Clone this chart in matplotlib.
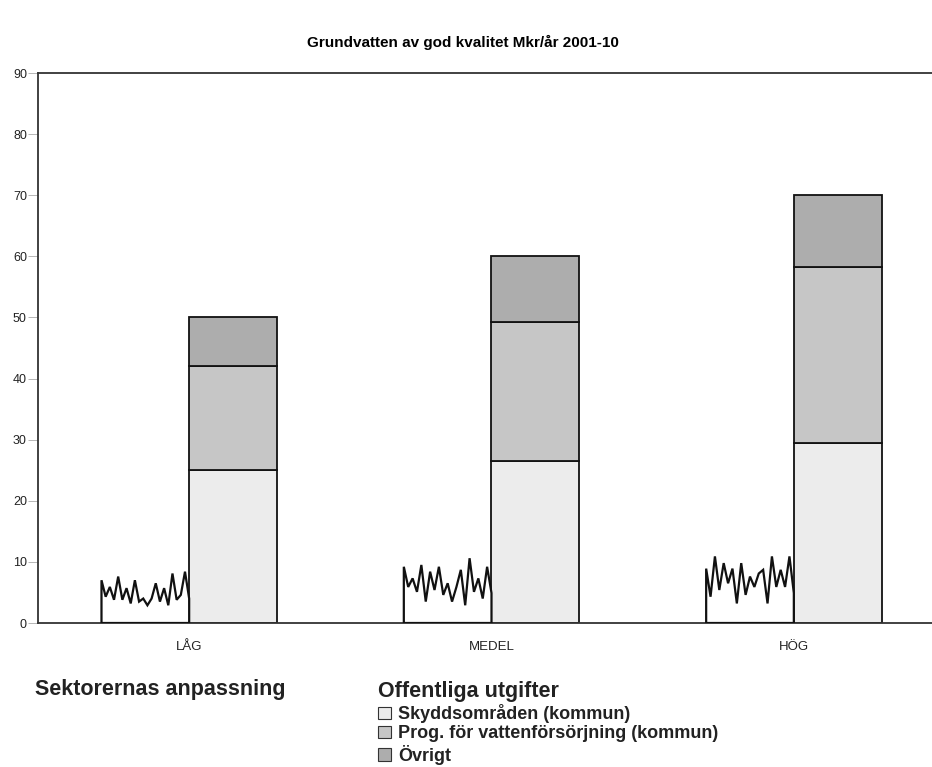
import numpy as np
import matplotlib.pyplot as plt
from matplotlib.patches import Patch

plt.rcParams.update({
    "font.family": ["Liberation Sans", "DejaVu Sans"],
})

categories = ["LÅG", "MEDEL", "HÖG"]

# Offentliga utgifter (stacked, Mkr/år)
skydd = [25.0, 26.5, 29.5]
prog = [17.0, 22.8, 28.7]
ovrigt = [8.0, 10.7, 11.8]

# Sektorernas anpassning: uncertain level, drawn as jagged top
zig_lag = [7.0, 4.3, 5.9, 3.8, 7.6, 3.8, 5.7, 3.2, 7.0, 3.5, 4.0, 2.9,
           4.0, 6.5, 3.5, 5.7, 2.9, 8.1, 3.8, 4.6, 8.4, 4.0]
zig_medel = [9.2, 5.9, 7.3, 5.1, 9.5, 3.5, 8.4, 5.4, 9.2, 4.6, 6.5, 3.5,
             5.9, 8.7, 2.9, 10.6, 5.1, 7.3, 4.0, 9.2, 4.9]
zig_hog = [8.9, 4.3, 10.9, 5.4, 9.8, 6.5, 8.9, 3.2, 9.8, 4.6, 7.6, 5.9,
           8.1, 8.7, 3.2, 10.9, 5.9, 8.7, 5.9, 10.9, 4.9]
zigzags = [zig_lag, zig_medel, zig_hog]

series_labels = ["Skyddsområden (kommun)",
                 "Prog. för vattenförsörjning (kommun)",
                 "Övrigt"]
colors = ["#ececec", "#c6c6c6", "#adadad"]

W, H = 932, 767
fig = plt.figure(figsize=(W / 100, H / 100), dpi=100)
ax = fig.add_axes([38 / W, (H - 623) / H, (945 - 38) / W, 550 / H])

x = np.arange(len(categories))
bw = 0.29

bottom = np.zeros(len(categories))
for vals, col in zip([skydd, prog, ovrigt], colors):
    ax.bar(x + bw / 2, vals, bw, bottom=bottom, color=col,
           edgecolor="#111111", linewidth=1.3)
    bottom += np.array(vals)

for xi, zz in zip(x, zigzags):
    xs = np.linspace(xi - bw, xi, len(zz))
    px = np.concatenate([[xi - bw], xs, [xi]])
    py = np.concatenate([[0], zz, [0]])
    ax.fill(px, py, facecolor="white", edgecolor="#111111", linewidth=1.6,
            zorder=3)

ax.set_xlim(-0.5, 2.5)
ax.set_ylim(0, 90)
ax.set_yticks(range(0, 91, 10))
ax.set_xticks(x)
ax.set_xticklabels(categories)
ax.tick_params(axis="x", length=0, pad=13, labelsize=9.5, colors="#222222")
ax.tick_params(axis="y", length=7, width=0.6, pad=1, labelsize=9,
               color="#aaaaaa", labelcolor="#222222")
for s in ["left", "bottom", "top"]:
    ax.spines[s].set_linewidth(1.3)
    ax.spines[s].set_color("#333333")
ax.spines["right"].set_visible(False)

fig.text(463 / W, 1 - 42 / H, "Grundvatten av god kvalitet Mkr/år 2001-10",
         ha="center", va="center", fontsize=11, fontweight="bold")

fig.text(35 / W, 1 - 690 / H, "Sektorernas anpassning", ha="left",
         va="center", fontsize=15.5, fontweight="bold", color="#222222")

handles = [Patch(facecolor=c, edgecolor="#333333", linewidth=0.8)
           for c in colors]
leg = fig.legend(handles, series_labels, title="Offentliga utgifter",
                 loc="upper left", bbox_to_anchor=(369 / W, 1 - 672 / H),
                 frameon=False,
                 prop={"size": 13, "weight": "bold"},
                 title_fontproperties={"size": 15.5, "weight": "bold"},
                 handlelength=0.7, handleheight=0.7, handletextpad=0.4,
                 labelspacing=0.12, borderpad=0, alignment="left")
for t in leg.get_texts():
    t.set_color("#222222")
leg.get_title().set_color("#222222")

fig.savefig("out.png", dpi=100)
